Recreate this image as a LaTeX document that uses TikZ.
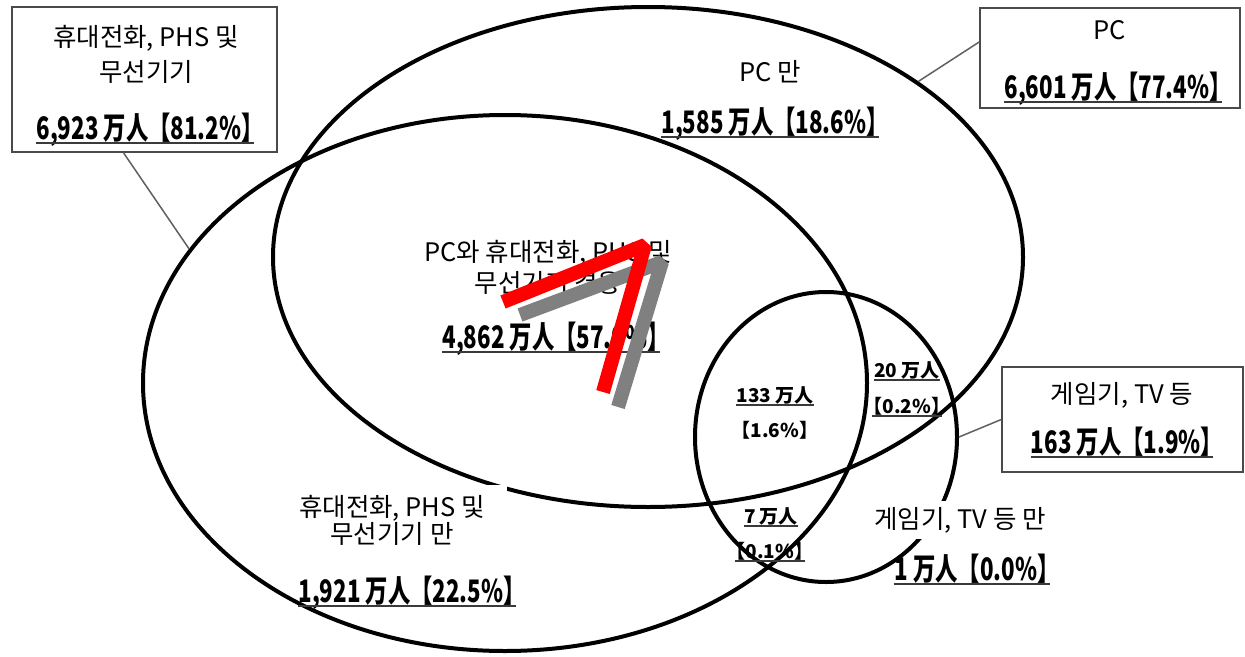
\documentclass[tikz,border=0pt]{standalone}
\usepackage{fontspec}
\usepackage{graphicx}
\setmainfont{Noto Sans CJK KR}
\usetikzlibrary{shapes.geometric,calc}
\definecolor{boxline}{HTML}{4A4A4A}
\definecolor{connline}{HTML}{606060}
\definecolor{ulcol}{HTML}{3A3A3A}
\definecolor{shadowgray}{HTML}{808080}
\newcommand{\cnum}[1]{\scalebox{0.72}[1]{#1}}
\newcommand{\rbr}{】\kern-0.45em}
\newcommand{\lbr}{\kern-0.45em【}
\begin{document}
\begin{tikzpicture}[x=1pt,y=-1pt,
  ring/.style={draw, ellipse, line width=4pt, inner sep=0pt},
  infobox/.style={draw=boxline, line width=1.5pt, fill=white, inner sep=0pt},
  conn/.style={draw=connline, line width=1.5pt},
  lbl/.style={font=\fontsize{25.5}{32}\selectfont, align=center, inner sep=0pt},
  uline/.style={append after command={(\tikzlastnode.south west) edge[draw=ulcol, line width=1.6pt] (\tikzlastnode.south east)}},
  bignum/.style={anchor=base, inner sep=0pt, text depth=3.5pt, font=\bfseries\fontsize{31}{32}\selectfont, uline},
  smallnum/.style={anchor=base, inner sep=0pt, text depth=2.5pt, font=\bfseries\fontsize{19}{20}\selectfont},
  shade7/.style={line width=14pt, line join=bevel, line cap=butt}
]
\useasboundingbox[fill=white] (0,0) rectangle (1245,656);

% circles
\node[ring, minimum width=724, minimum height=536] (mob) at (505,383) {};
\node[ring, minimum width=750, minimum height=500] (pc) at (648,257) {};
\node[ring, minimum width=262, minimum height=290] (game) at (826,437) {};

% boxes
\node[infobox, minimum width=265, minimum height=145] (mbox) at (144.5,79.5) {};
\node[infobox, minimum width=260, minimum height=100] (pcbox) at (1110,58) {};
\node[infobox, minimum width=241, minimum height=105] (gbox) at (1122.5,419.5) {};

% connectors
\draw[conn] (mbox.254) -- (mob.157.9);
\draw[conn] (pcbox.173.4) -- (pc.33.8);
\draw[conn] (gbox.west) -- (game.east);

% left box texts
\node[lbl] (mboxt1) at (146,38) {휴대전화, PHS 및};
\node[lbl] (mboxt2) at (146,72) {무선기기};
\node[bignum] (mboxn) at (145,139) {\cnum{6,923 万人【81.2\%\rbr}};

% PC box texts
\node[lbl] (pcboxt) at (1110,30) {PC};
\node[bignum] (pcboxn) at (1113,98) {\cnum{6,601 万人【77.4\%\rbr}};

% game box texts
\node[lbl] (gboxt) at (1122,395) {게임기, TV 등};
\node[bignum] (gboxn) at (1122,453) {\cnum{163 万人【1.9\%\rbr}};

% PC only
\node[lbl] (pconlyt) at (770,72) {PC 만};
\node[bignum] (pconlyn) at (770,133) {\cnum{1,585 万人【18.6\%\rbr}};

% both
\node[lbl] (botht1) at (548,253) {PC와 휴대전화, PHS 및};
\node[lbl] (botht2) at (548,283) {무선기기 겸용};
\node[bignum] (bothn) at (551,348) {\cnum{4,862 万人【57.0\%\rbr}};

% small regions
\node[smallnum, uline] (r133) at (775,402) {133 万人};
\node[smallnum] (r133p) at (775,437) {\lbr 1.6\%\rbr};
\node[smallnum, uline] (r20) at (907,377) {20 万人};
\node[smallnum, uline] (r20p) at (907,413) {\lbr 0.2\%\rbr};
\node[smallnum, uline] (r7) at (771,523) {7 万人};
\node[smallnum, uline] (r7p) at (770,558) {\lbr 0.1\%\rbr};

% game only
\node[lbl, fill=white, inner xsep=5pt, inner ysep=6pt] (gonlyt) at (960,520) {게임기, TV 등 만};
\node[bignum] (gonlyn) at (972,580) {\cnum{1 万人【0.0\%\rbr}};

% mobile only
\node[lbl, fill=white, inner xsep=22pt, inner ysep=10pt, font=\fontsize{25.5}{27}\selectfont] (monlyt) at (392,520) {휴대전화, PHS 및\\무선기기 만};
\node[bignum] (monlyn) at (407,602) {\cnum{1,921 万人【22.5\%\rbr}};

% overlay mark
\draw[shade7, draw=shadowgray] (520,315) -- (662,262) -- (618,407);
\draw[shade7, draw=red] (503,302) -- (645,245) -- (603,392);
\end{tikzpicture}
\end{document}
